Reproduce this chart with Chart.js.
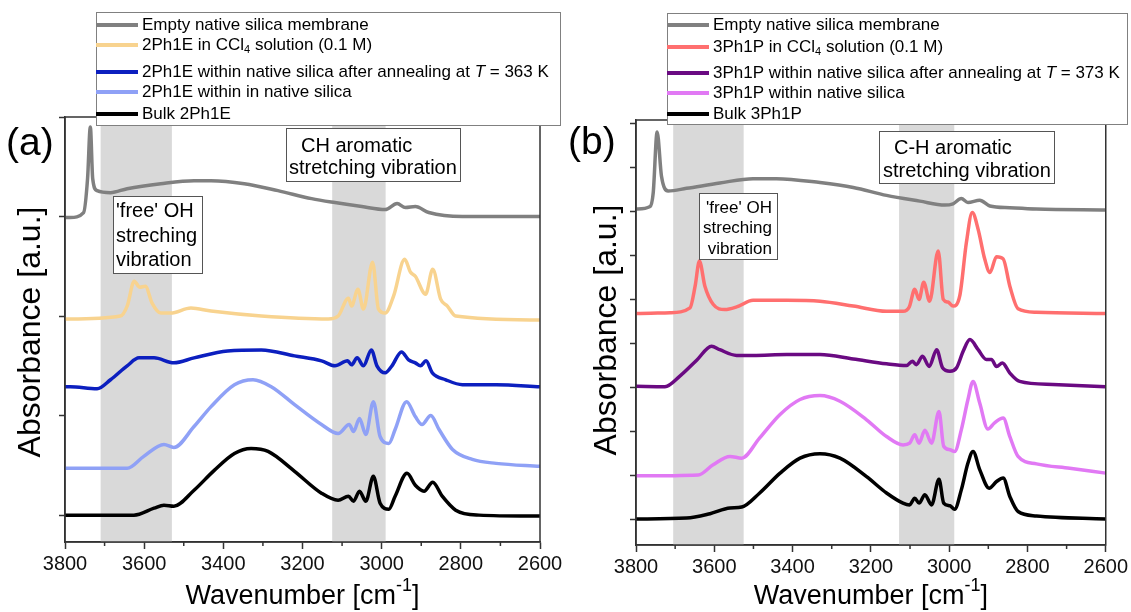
<!DOCTYPE html>
<html>
<head>
<meta charset="utf-8">
<script src="https://cdn.jsdelivr.net/npm/chart.js@4.4.0/dist/chart.umd.min.js"></script>
<style>
html, body { margin: 0; padding: 0; background: #fff; }
#wrap { position: relative; width: 1131px; height: 612px; }
.pane { position: absolute; top: 0; height: 612px; }
</style>
</head>
<body>
<div id="wrap">
  <div class="pane" style="left:0;width:566px"><canvas id="chartA" width="566" height="612"></canvas></div>
  <div class="pane" style="left:566px;width:565px"><canvas id="chartB" width="565" height="612"></canvas></div>
</div>
<script>
// ---- panel (a): 2Ph1E ----
const emptyA_wn = [3800,3787,3753,3743,3736,3730,3719,3685,3643,3558,3474,3431,3347,3262,3177,3118,3050,2991,2961,2940,2915,2881,2796,2600];
const emptyA_ab = [2.99,2.99,3.04,3.38,3.90,3.38,3.26,3.24,3.28,3.33,3.36,3.36,3.33,3.26,3.18,3.14,3.10,3.07,3.13,3.09,3.10,3.04,3.00,3.00];

const solA_wn = [3800,3787,3660,3643,3625,3611,3597,3580,3558,3533,3482,3431,3304,3135,3110,3084,3076,3060,3046,3023,3008,2991,2970,2942,2927,2915,2889,2871,2851,2834,2813,2600];
const solA_ab = [1.97,1.97,2.00,2.10,2.35,2.29,2.30,2.13,2.03,2.03,2.08,2.05,2.00,1.97,2.00,2.18,2.10,2.27,2.07,2.54,2.07,2.03,2.20,2.57,2.44,2.40,2.22,2.47,2.17,2.10,2.00,1.96];

const annA_wn = [3800,3787,3719,3685,3643,3613,3575,3525,3474,3389,3304,3220,3152,3118,3086,3076,3062,3046,3026,3012,2991,2974,2950,2932,2915,2902,2888,2872,2838,2796,2711,2600];
const annA_ab = [1.29,1.29,1.27,1.36,1.50,1.58,1.58,1.53,1.58,1.65,1.66,1.60,1.55,1.50,1.55,1.51,1.58,1.50,1.66,1.50,1.43,1.50,1.64,1.56,1.53,1.50,1.55,1.43,1.36,1.31,1.31,1.29];

const poreA_wn = [3800,3787,3643,3601,3550,3525,3474,3431,3372,3325,3279,3220,3152,3110,3082,3071,3056,3040,3021,3004,2982,2966,2937,2915,2898,2876,2855,2821,2771,2711,2600];
const poreA_ab = [0.47,0.47,0.47,0.59,0.71,0.68,0.89,1.09,1.31,1.36,1.29,1.11,0.91,0.82,0.91,0.84,0.97,0.81,1.14,0.79,0.72,0.86,1.14,0.99,0.91,1.00,0.86,0.66,0.56,0.52,0.49];

const bulkA_wn = [3800,3787,3626,3575,3550,3525,3474,3423,3372,3330,3287,3220,3152,3110,3084,3071,3056,3040,3021,3004,2982,2966,2936,2915,2893,2871,2847,2813,2754,2600];
const bulkA_ab = [0.00,0.00,0.00,0.07,0.10,0.09,0.25,0.45,0.62,0.67,0.64,0.44,0.22,0.15,0.19,0.14,0.24,0.14,0.39,0.12,0.06,0.19,0.42,0.30,0.24,0.33,0.19,0.05,0.00,-0.01];

// ---- panel (b): 3Ph1P ----
const emptyB_wn = [3800,3764,3756,3746,3735,3718,3671,3586,3501,3441,3330,3245,3160,3075,3011,2990,2969,2952,2922,2896,2845,2777,2600];
const emptyB_ab = [7.05,7.11,7.42,8.80,7.80,7.46,7.52,7.64,7.74,7.74,7.65,7.54,7.36,7.23,7.14,7.17,7.29,7.20,7.25,7.12,7.08,7.05,7.03];

const solB_wn = [3800,3713,3662,3649,3638,3624,3603,3573,3543,3501,3415,3330,3245,3160,3118,3102,3088,3077,3065,3050,3028,3015,3003,2990,2973,2956,2941,2926,2909,2896,2879,2862,2845,2824,2777,2600];
const solB_ab = [4.68,4.70,4.81,5.30,5.87,5.30,4.89,4.77,4.83,4.98,4.98,4.96,4.85,4.73,4.73,4.83,5.23,5.00,5.39,4.96,6.10,5.00,4.94,4.85,5.08,6.29,6.97,6.59,5.91,5.61,5.97,5.92,5.30,4.79,4.71,4.68];

const annB_wn = [3800,3726,3688,3645,3607,3586,3543,3501,3415,3330,3245,3160,3109,3094,3084,3068,3051,3032,3017,2998,2981,2964,2947,2926,2905,2892,2879,2864,2845,2820,2735,2600];
const annB_ab = [3.03,3.02,3.26,3.62,3.94,3.86,3.73,3.73,3.75,3.75,3.65,3.54,3.50,3.60,3.52,3.71,3.48,3.86,3.45,3.37,3.45,3.83,4.09,3.86,3.64,3.64,3.48,3.56,3.33,3.14,3.07,3.02];

const poreB_wn = [3800,3641,3603,3560,3530,3484,3432,3381,3330,3279,3211,3160,3118,3101,3088,3077,3062,3045,3026,3014,2998,2986,2969,2952,2939,2922,2901,2884,2862,2845,2824,2777,2692,2600];
const poreB_ab = [1.00,1.02,1.25,1.44,1.40,1.86,2.39,2.73,2.82,2.69,2.27,1.89,1.70,1.74,1.93,1.74,2.03,1.74,2.46,1.67,1.59,1.55,2.04,2.73,3.14,2.65,2.06,2.20,2.31,1.89,1.44,1.27,1.17,1.06];

const bulkB_wn = [3800,3671,3611,3560,3530,3484,3432,3381,3330,3279,3211,3160,3118,3101,3088,3077,3062,3045,3026,3014,2998,2986,2969,2952,2939,2922,2898,2879,2862,2845,2824,2777,2600];
const bulkB_ab = [0.02,0.04,0.14,0.27,0.29,0.61,1.06,1.40,1.50,1.40,0.98,0.61,0.38,0.34,0.49,0.38,0.57,0.34,0.92,0.38,0.32,0.24,0.68,1.29,1.55,1.14,0.72,0.87,0.95,0.53,0.19,0.09,0.02];

// shaded regions [from, to] in cm-1
const bandsA = [[3710, 3530], [3125, 2990]];
const bandsB = [[3705, 3525], [3128, 2987]];

const xTicks = [3800, 3600, 3400, 3200, 3000, 2800, 2600];

// legend labels, parts: [text, style] with style '', 'sub', 'i'
const legendA = [
  [['Empty native silica membrane', '']],
  [['2Ph1E in CCl', ''], ['4', 'sub'], [' solution (0.1 M)', '']],
  [['2Ph1E within native silica after annealing at ', ''], ['T', 'i'], [' = 363 K', '']],
  [['2Ph1E within in native silica', '']],
  [['Bulk 2Ph1E', '']]
];
const legendB = [
  [['Empty native silica membrane', '']],
  [['3Ph1P in CCl', ''], ['4', 'sub'], [' solution (0.1 M)', '']],
  [['3Ph1P within native silica after annealing at ', ''], ['T', 'i'], [' = 373 K', '']],
  [['3Ph1P within native silica', '']],
  [['Bulk 3Ph1P', '']]
];

const colorsA = ['#808080', '#f8d38f', '#0c1fbf', '#8fa1f6', '#000000'];
const colorsB = ['#808080', '#ff6f6f', '#6a0a82', '#e179f4', '#000000'];

const FONT = '"Liberation Sans", Arial, Helvetica, sans-serif';

function toXY(wn, ab) {
  return wn.map((w, i) => ({ x: w, y: ab[i] }));
}

function setFont(ctx, size, style) {
  if (style === 'i') ctx.font = 'italic ' + size + 'px ' + FONT;
  else if (style === 'sub' || style === 'sup') ctx.font = Math.round(size * 0.65) + 'px ' + FONT;
  else ctx.font = size + 'px ' + FONT;
}

function richWidth(ctx, parts, size) {
  let w = 0;
  parts.forEach(p => { setFont(ctx, size, p[1]); w += ctx.measureText(p[0]).width; });
  return w;
}

function drawRich(ctx, parts, x, y, size) {
  parts.forEach(p => {
    setFont(ctx, size, p[1]);
    let dy = 0;
    if (p[1] === 'sub') dy = size * 0.3;
    if (p[1] === 'sup') dy = -size * 0.42;
    ctx.fillText(p[0], x, y + dy);
    x += ctx.measureText(p[0]).width;
  });
}

function makeDecor(cfg) {
  return {
    id: 'decor',
    beforeDatasetsDraw(chart) {
      const { ctx, chartArea: a } = chart;
      const xs = chart.scales.x;
      ctx.save();
      ctx.fillStyle = '#d9d9d9';
      cfg.bands.forEach(b => {
        const x1 = xs.getPixelForValue(b[0]);
        const x2 = xs.getPixelForValue(b[1]);
        ctx.fillRect(x1, a.top, x2 - x1, a.bottom - a.top);
      });
      ctx.restore();
    },
    afterDatasetsDraw(chart) {
      const { ctx, chartArea: a } = chart;
      const xs = chart.scales.x;
      ctx.save();
      ctx.strokeStyle = '#333';
      ctx.lineWidth = 1.5;
      ctx.strokeRect(a.left, a.top, a.right - a.left, a.bottom - a.top);
      // minor x ticks
      ctx.beginPath();
      for (let v = 3700; v > 2600; v -= 200) {
        const px = xs.getPixelForValue(v);
        ctx.moveTo(px, a.bottom);
        ctx.lineTo(px, a.bottom + 4);
      }
      ctx.stroke();

      // annotation boxes
      cfg.boxes.forEach(bx => {
        ctx.fillStyle = '#fff';
        ctx.fillRect(bx.x, bx.y, bx.w, bx.h);
        ctx.strokeStyle = '#555';
        ctx.lineWidth = 1;
        ctx.strokeRect(bx.x + 0.5, bx.y + 0.5, bx.w, bx.h);
        ctx.fillStyle = '#000';
        ctx.font = bx.size + 'px ' + FONT;
        ctx.textBaseline = 'alphabetic';
        ctx.textAlign = bx.align;
        bx.lines.forEach((t, i) => {
          ctx.fillText(t, bx.tx[i], bx.base[i]);
        });
      });

      // legend
      const L = cfg.legend;
      ctx.fillStyle = '#fff';
      ctx.fillRect(L.x, L.y, L.w, L.h);
      ctx.strokeStyle = '#808080';
      ctx.lineWidth = 1;
      ctx.strokeRect(L.x + 0.5, L.y + 0.5, L.w, L.h);
      ctx.textAlign = 'left';
      ctx.textBaseline = 'middle';
      chart.data.datasets.forEach((ds, i) => {
        const yy = L.rows[i];
        ctx.strokeStyle = ds.borderColor;
        ctx.lineWidth = 4;
        ctx.beginPath();
        ctx.moveTo(L.x, yy);
        ctx.lineTo(L.x + 42, yy);
        ctx.stroke();
        ctx.fillStyle = '#000';
        drawRich(ctx, L.labels[i], L.x + 46, yy, 17);
      });

      // panel letter
      ctx.textBaseline = 'alphabetic';
      ctx.fillStyle = '#000';
      ctx.font = '39px ' + FONT;
      ctx.fillText(cfg.panel.text, cfg.panel.x, cfg.panel.y);

      // y title
      ctx.save();
      ctx.translate(cfg.ytitle.x, cfg.ytitle.y);
      ctx.rotate(-Math.PI / 2);
      ctx.textAlign = 'center';
      ctx.textBaseline = 'middle';
      ctx.font = '32px ' + FONT;
      ctx.fillText('Absorbance [a.u.]', 0, 0);
      ctx.restore();

      // x title with superscript
      const parts = [['Wavenumber [cm', ''], ['-1', 'sup'], [']', '']];
      const tw = richWidth(ctx, parts, 27);
      ctx.textAlign = 'left';
      ctx.textBaseline = 'middle';
      drawRich(ctx, parts, (a.left + a.right) / 2 - tw / 2, cfg.xtitleY, 27);
      ctx.restore();
    }
  };
}

function buildChart(id, sets, colors, opt) {
  const datasets = sets.map((s, i) => ({
    label: s.label,
    data: toXY(s.wn, s.ab),
    borderColor: colors[i],
    borderWidth: 3.5,
    pointRadius: 0,
    fill: false,
    cubicInterpolationMode: 'monotone'
  }));
  return new Chart(document.getElementById(id), {
    type: 'line',
    data: { datasets },
    options: {
      responsive: false,
      animation: false,
      devicePixelRatio: 1,
      events: [],
      layout: { padding: { top: opt.top, right: opt.right, left: 0, bottom: 0 } },
      plugins: { legend: { display: false }, tooltip: { enabled: false } },
      scales: {
        x: {
          type: 'linear', min: 2600, max: 3800, reverse: true,
          afterBuildTicks: s => { s.ticks = xTicks.map(v => ({ value: v })); },
          ticks: { font: { size: 20, family: FONT }, color: '#111', padding: 3, maxRotation: 0, autoSkip: false,
                   callback: v => String(v) },
          grid: { drawOnChartArea: false, tickLength: 7, tickColor: '#333', tickWidth: 1.5 },
          border: { color: '#333', width: 1.5 },
          afterFit: s => { s.height = opt.xh; }
        },
        y: {
          type: 'linear', min: opt.ymin, max: opt.ymax,
          afterBuildTicks: s => { s.ticks = opt.yticks.map(v => ({ value: v })); },
          ticks: { display: false },
          grid: { drawOnChartArea: false, tickLength: 6, tickColor: '#333', tickWidth: 1.5 },
          border: { color: '#333', width: 1.5 },
          afterFit: s => { s.width = opt.yw; }
        }
      }
    },
    plugins: [makeDecor(opt.decor)]
  });
}

buildChart('chartA', [
  { label: 'Empty native silica membrane', wn: emptyA_wn, ab: emptyA_ab },
  { label: '2Ph1E in CCl\u2084 solution (0.1 M)', wn: solA_wn, ab: solA_ab },
  { label: '2Ph1E within native silica after annealing at T = 363 K', wn: annA_wn, ab: annA_ab },
  { label: '2Ph1E within in native silica', wn: poreA_wn, ab: poreA_ab },
  { label: 'Bulk 2Ph1E', wn: bulkA_wn, ab: bulkA_ab }
], colorsA, {
  top: 117, right: 26, xh: 70, yw: 65,
  ymin: -0.27, ymax: 4.0, yticks: [0, 1, 2, 3, 4],
  decor: {
    bands: bandsA,
    boxes: [
      { x: 113, y: 196, w: 89, h: 77, size: 20, align: 'left', tx: [116, 116, 116],
        base: [217, 242, 266], lines: ["'free' OH", 'streching', 'vibration'] },
      { x: 286, y: 128, w: 174, h: 53, size: 20, align: 'left', tx: [301, 289],
        base: [152, 174], lines: ['CH aromatic', 'stretching vibration'] }
    ],
    legend: { x: 96, y: 12, w: 464, h: 113, rows: [25, 45, 72, 92, 114], labels: legendA },
    panel: { text: '(a)', x: 6, y: 155 },
    ytitle: { x: 31, y: 332 },
    xtitleY: 597
  }
});

buildChart('chartB', [
  { label: 'Empty native silica membrane', wn: emptyB_wn, ab: emptyB_ab },
  { label: '3Ph1P in CCl\u2084 solution (0.1 M)', wn: solB_wn, ab: solB_ab },
  { label: '3Ph1P within native silica after annealing at T = 373 K', wn: annB_wn, ab: annB_ab },
  { label: '3Ph1P within native silica', wn: poreB_wn, ab: poreB_ab },
  { label: 'Bulk 3Ph1P', wn: bulkB_wn, ab: bulkB_ab }
], colorsB, {
  top: 120, right: 25, xh: 67, yw: 70,
  ymin: -0.57, ymax: 9.07, yticks: [0, 1, 2, 3, 4, 5, 6, 7, 8, 9],
  decor: {
    bands: bandsB,
    boxes: [
      { x: 133, y: 193, w: 78, h: 66, size: 17, align: 'right', tx: [206, 206, 206],
        base: [213, 233, 254], lines: ["'free' OH", 'streching', 'vibration'] },
      { x: 313, y: 131, w: 175, h: 52, size: 20, align: 'left', tx: [328, 317],
        base: [154, 177], lines: ['C-H aromatic', 'stretching vibration'] }
    ],
    legend: { x: 101, y: 13, w: 460, h: 111, rows: [25, 47, 73, 93, 114], labels: legendB },
    panel: { text: '(b)', x: 2, y: 154 },
    ytitle: { x: 41, y: 330 },
    xtitleY: 597
  }
});
</script>
</body>
</html>
